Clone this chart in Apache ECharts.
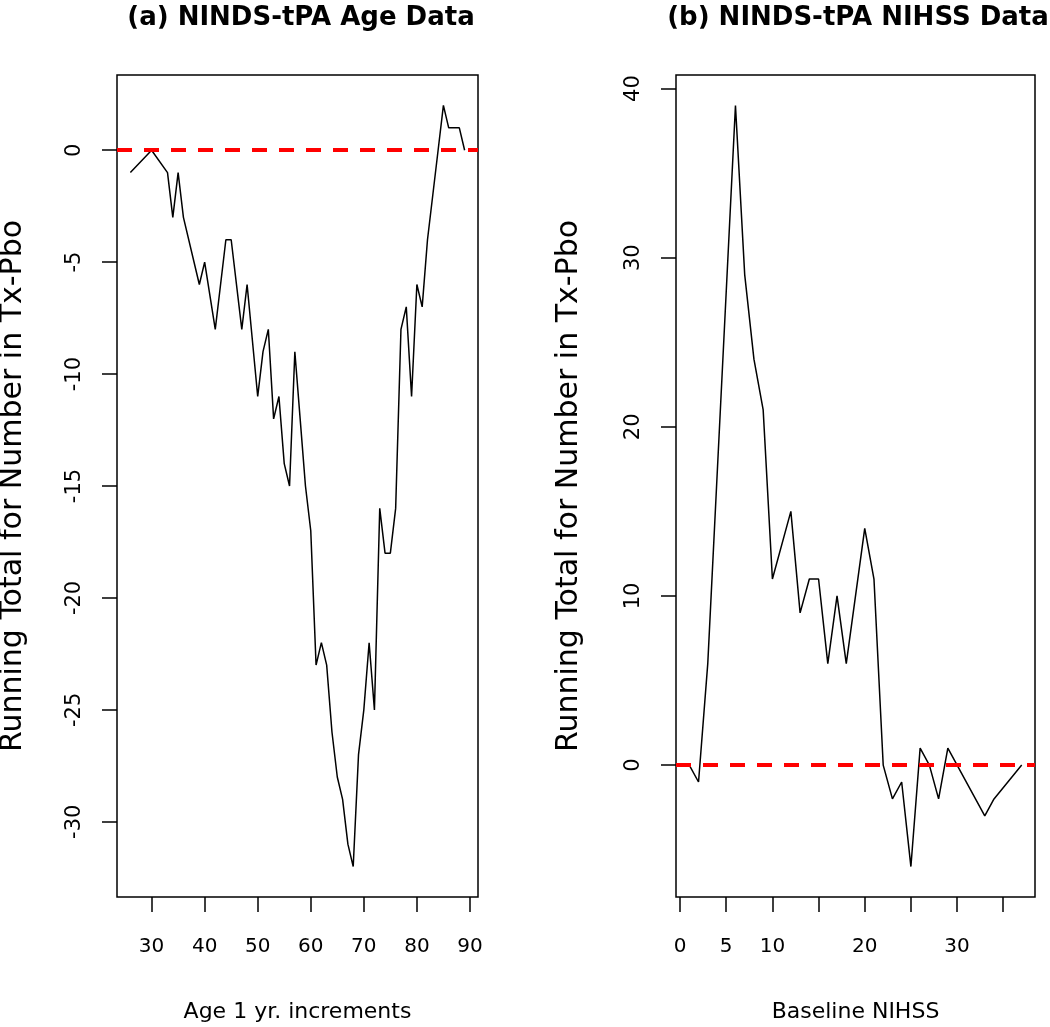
<!DOCTYPE html>
<html>
<head>
<meta charset="utf-8">
<script src="https://cdn.jsdelivr.net/npm/echarts@6/dist/echarts.min.js"></script>
<style>
html,body{margin:0;padding:0;background:#fff;}
#c{width:1050px;height:1027px;}
</style>
</head>
<body>
<div id="c"></div>
<script>
// Panel (a): running total vs age (vertices)
const ageX = [26,30,33,34,35,36,39,40,42,44,45,47,48,50,51,52,53,54,55,56,57,58,59,60,61,62,63,64,65,66,67,68,69,70,71,72,73,74,75,76,77,78,79,80,81,82,83,84,85,86,88,89];
const ageY = [-1,0,-1,-3,-1,-3,-6,-5,-8,-4,-4,-8,-6,-11,-9,-8,-12,-11,-14,-15,-9,-12,-15,-17,-23,-22,-23,-26,-28,-29,-31,-32,-27,-25,-22,-25,-16,-18,-18,-16,-8,-7,-11,-6,-7,-4,-2,0,2,1,1,0];
// Panel (b): running total vs baseline NIHSS
const nihssX = [1,2,3,4,5,6,7,8,9,10,12,13,14,15,16,17,18,20,21,22,23,24,25,26,27,28,29,33,34,37];
const nihssY = [0,-1,6,17,28,39,29,24,21,11,15,9,11,11,6,10,6,14,11,0,-2,-1,-6,1,0,-2,1,-3,-2,0];
// Tick values
const ageXTicks = [30,40,50,60,70,80,90];
const ageYTicks = [0,-5,-10,-15,-20,-25,-30];
const nihssXTicks = [0,5,10,15,20,25,30,35];
const nihssXLabels = [0,5,10,20,30];
const nihssYTicks = [0,10,20,30,40];
const refLine = 0;

const FONT = 'DejaVu Sans';
const TICKFS = 20, NAMEFS = 22, YNAMEFS = 30;

const pairs = (xs, ys) => xs.map((x, i) => [x, ys[i]]);

function xAxis(idx, min, max, ticks, labels, name) {
  return {
    type: 'value', gridIndex: idx, min: min, max: max, name: name,
    nameLocation: 'middle', nameGap: 104,
    nameTextStyle: {fontFamily: FONT, fontSize: NAMEFS, color: '#000'},
    axisLine: {show: false, onZero: false},
    axisTick: {show: true, length: 15, customValues: ticks, lineStyle: {color: '#000', width: 1.5}},
    axisLabel: {show: true, customValues: labels, margin: 40, fontFamily: FONT, fontSize: TICKFS, color: '#000'},
    splitLine: {show: false}
  };
}
function yAxis(idx, min, max, ticks, gap) {
  return {
    type: 'value', gridIndex: idx, min: min, max: max,
    name: 'Running Total for Number in Tx-Pbo',
    nameLocation: 'middle', nameRotate: 90, nameGap: gap,
    nameTextStyle: {fontFamily: FONT, fontSize: YNAMEFS, color: '#000'},
    axisLine: {show: false, onZero: false},
    axisTick: {show: true, length: 15, customValues: ticks, lineStyle: {color: '#000', width: 1.5}},
    axisLabel: {show: true, customValues: ticks, rotate: 90, margin: 32, fontFamily: FONT, fontSize: 21, color: '#000'},
    splitLine: {show: false}
  };
}
function lineSeries(idx, data) {
  return {
    type: 'line', xAxisIndex: idx, yAxisIndex: idx, data: data,
    showSymbol: false, symbol: 'none', silent: true, animation: false,
    lineStyle: {color: '#000', width: 1.5},
    markLine: {
      silent: true, symbol: ['none', 'none'], animation: false,
      label: {show: false},
      lineStyle: {color: '#ff0000', width: 4, type: [15, 12]},
      data: [{yAxis: refLine}]
    }
  };
}

const chart = echarts.init(document.getElementById('c'), null, {renderer: 'canvas'});
chart.setOption({
  backgroundColor: '#fff',
  animation: false,
  title: [
    {text: '(a) NINDS-tPA Age Data', left: 296, top: 0, textAlign: 'center',
     textStyle: {fontFamily: FONT, fontSize: 26, fontWeight: 'bold', color: '#000'}},
    {text: '(b) NINDS-tPA NIHSS Data', left: 853, top: 0, textAlign: 'center',
     textStyle: {fontFamily: FONT, fontSize: 26, fontWeight: 'bold', color: '#000'}}
  ],
  grid: [
    {left: 117, top: 75, width: 361, height: 822, show: true, borderColor: '#000', borderWidth: 1.5,
     backgroundColor: 'transparent', containLabel: false, outerBoundsMode: 'none'},
    {left: 676, top: 75, width: 359, height: 822, show: true, borderColor: '#000', borderWidth: 1.5,
     backgroundColor: 'transparent', containLabel: false, outerBoundsMode: 'none'}
  ],
  xAxis: [
    xAxis(0, 23.48, 91.52, ageXTicks, ageXTicks, 'Age 1 yr. increments'),
    xAxis(1, -0.44, 38.44, nihssXTicks, nihssXLabels, 'Baseline NIHSS')
  ],
  yAxis: [
    yAxis(0, -33.36, 3.36, ageYTicks, 89),
    yAxis(1, -7.8, 40.8, nihssYTicks, 92)
  ],
  series: [
    lineSeries(0, pairs(ageX, ageY)),
    lineSeries(1, pairs(nihssX, nihssY))
  ]
});
</script>
</body>
</html>
